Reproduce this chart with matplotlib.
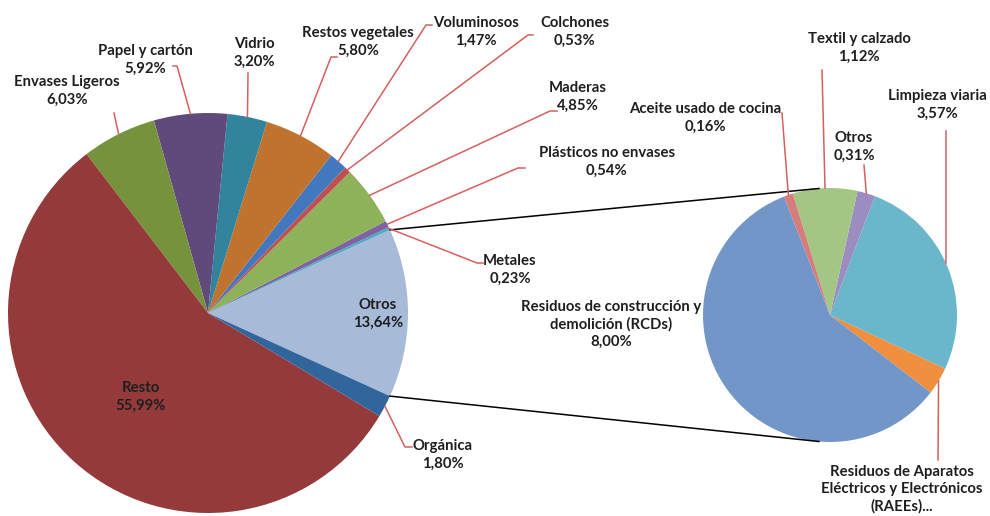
import numpy as np
import matplotlib
matplotlib.use("Agg")
import matplotlib.pyplot as plt

plt.rcParams['font.family'] = ['Lato', 'DejaVu Sans']

# ---------------- data ----------------
main_labels = ["Otros", "Metales", "Plásticos no envases", "Maderas", "Colchones",
               "Voluminosos", "Restos vegetales", "Vidrio", "Papel y cartón",
               "Envases Ligeros", "Resto", "Orgánica"]
main_values = [13.64, 0.23, 0.54, 4.85, 0.53, 1.47, 5.80, 3.20, 5.92, 6.03, 55.99, 1.80]

sub_labels = ["Residuos de Aparatos\nEléctricos y Electrónicos\n(RAEEs)...", "Limpieza viaria",
              "Otros", "Textil y calzado", "Aceite usado de cocina",
              "Residuos de construcción y\ndemolición (RCDs)"]
sub_values = [0.48, 3.57, 0.31, 1.12, 0.16, 8.00]
sub_show_value = [False, True, True, True, True, True]

main_colors = ['#A7BAD8', '#4BACC6', '#7E62A2', '#8EB25A', '#C0504D', '#4178BE',
               '#C0722F', '#31849B', '#604A7B', '#76923C', '#943A3A', '#31659C']
sub_colors = ['#F0903F', '#6AB7CB', '#9B8DC0', '#A3C684', '#D67C7A', '#7396C8']

W, H = 990, 516
fig = plt.figure(figsize=(W / 100, H / 100), dpi=100)
ax = fig.add_axes([0, 0, 1, 1])


def P(x, y):
    """image pixel coords -> data coords"""
    return (x, H - y)


def fmt(v):
    return f"{v:.2f}".replace(".", ",") + "%"


TXT = '#1E1E1E'
LEAD = '#D65F5F'
FS = 10.7
LS = 1.28

# ---------------- main pie ----------------
mc = P(208, 313)
mr = 200
m_start = -main_values[0] / sum(main_values) * 180
mw, _ = ax.pie(main_values, colors=main_colors, startangle=m_start, counterclock=True,
               center=mc, radius=mr, wedgeprops=dict(linewidth=0))

# ---------------- secondary pie ----------------
sc = P(830, 315)
sr = 127
sw, _ = ax.pie(sub_values, colors=sub_colors, startangle=-37.6, counterclock=True,
               center=sc, radius=sr, wedgeprops=dict(linewidth=0))

ax.set_xlim(0, W)
ax.set_ylim(0, H)
ax.set_aspect('equal')
ax.axis('off')


def edge_pt(center, r, ang):
    a = np.deg2rad(ang)
    return (center[0] + r * np.cos(a), center[1] + r * np.sin(a))


def mid_pt(w, center, r):
    return edge_pt(center, r, (w.theta1 + w.theta2) / 2)


# connector lines between pies
t1 = mw[0].theta2
t0 = mw[0].theta1
for a_main, a_sub in [(t1, 95), (t0, 265)]:
    p0 = edge_pt(mc, mr, a_main)
    p1 = edge_pt(sc, sr, a_sub)
    ax.plot([p0[0], p1[0]], [p0[1], p1[1]], color='black', lw=1.1, zorder=1)

# ---------------- main labels ----------------
main_text_pos = {
    "Otros": (378, 314), "Metales": (510, 270), "Plásticos no envases": (607, 162),
    "Maderas": (578, 97), "Colchones": (575, 32), "Voluminosos": (476, 32),
    "Restos vegetales": (358, 42), "Vidrio": (254, 53), "Papel y cartón": (145, 60),
    "Envases Ligeros": (67, 91), "Resto": (141, 397), "Orgánica": (443, 455),
}
# leader paths in image coords, ending at slice
main_leader = {
    "Metales": [(483, 263), (477, 263)],
    "Plásticos no envases": [(525, 168), (518, 168)],
    "Maderas": [(557, 111), (550, 111)],
    "Colchones": [(533, 35), (528, 35)],
    "Voluminosos": [(432, 25), (426, 25)],
    "Restos vegetales": [(337, 57), (331, 57)],
    "Vidrio": [(248, 73)],
    "Papel y cartón": [(173, 66), (177, 66)],
    "Envases Ligeros": [(114, 113)],
    "Orgánica": [(412, 447), (405, 447)],
}

for w, lab, val in zip(mw, main_labels, main_values):
    tx, ty = P(*main_text_pos[lab])
    ax.text(tx, ty, f"{lab}\n{fmt(val)}", ha='center', va='center', fontsize=FS,
            fontweight='bold', color=TXT, linespacing=LS, zorder=5)
    if lab in main_leader:
        pts = [P(*p) for p in main_leader[lab]] + [mid_pt(w, mc, mr)]
        xs, ys = zip(*pts)
        ax.plot(xs, ys, color=LEAD, lw=1.1, zorder=2)

# ---------------- secondary labels ----------------
sub_text_pos = {
    sub_labels[0]: (902, 489), "Limpieza viaria": (937, 105), "Otros": (854, 147),
    "Textil y calzado": (859, 48), "Aceite usado de cocina": (705, 118),
    sub_labels[5]: (611, 324),
}
sub_leader = {
    sub_labels[0]: [(938, 460)],
    "Otros": [(864, 165)],
    "Textil y calzado": [(822, 70)],
    "Aceite usado de cocina": [(782, 113)],
}

for w, lab, val, show in zip(sw, sub_labels, sub_values, sub_show_value):
    tx, ty = P(*sub_text_pos[lab])
    s = f"{lab}\n{fmt(val)}" if show else lab
    ax.text(tx, ty, s, ha='center', va='center', fontsize=FS, fontweight='bold',
            color=TXT, linespacing=LS, zorder=5)
    if lab in sub_leader:
        pts = [P(*p) for p in sub_leader[lab]] + [mid_pt(w, sc, sr)]
        xs, ys = zip(*pts)
        ax.plot(xs, ys, color=LEAD, lw=1.1, zorder=2)
    elif lab == "Limpieza viaria":
        x0 = 946
        dx = x0 - sc[0]
        y_edge = sc[1] + np.sqrt(sr ** 2 - dx ** 2)
        p = P(x0, 131)
        ax.plot([p[0], x0], [p[1], y_edge], color=LEAD, lw=1.1, zorder=2)

fig.savefig("out.png", dpi=100)
